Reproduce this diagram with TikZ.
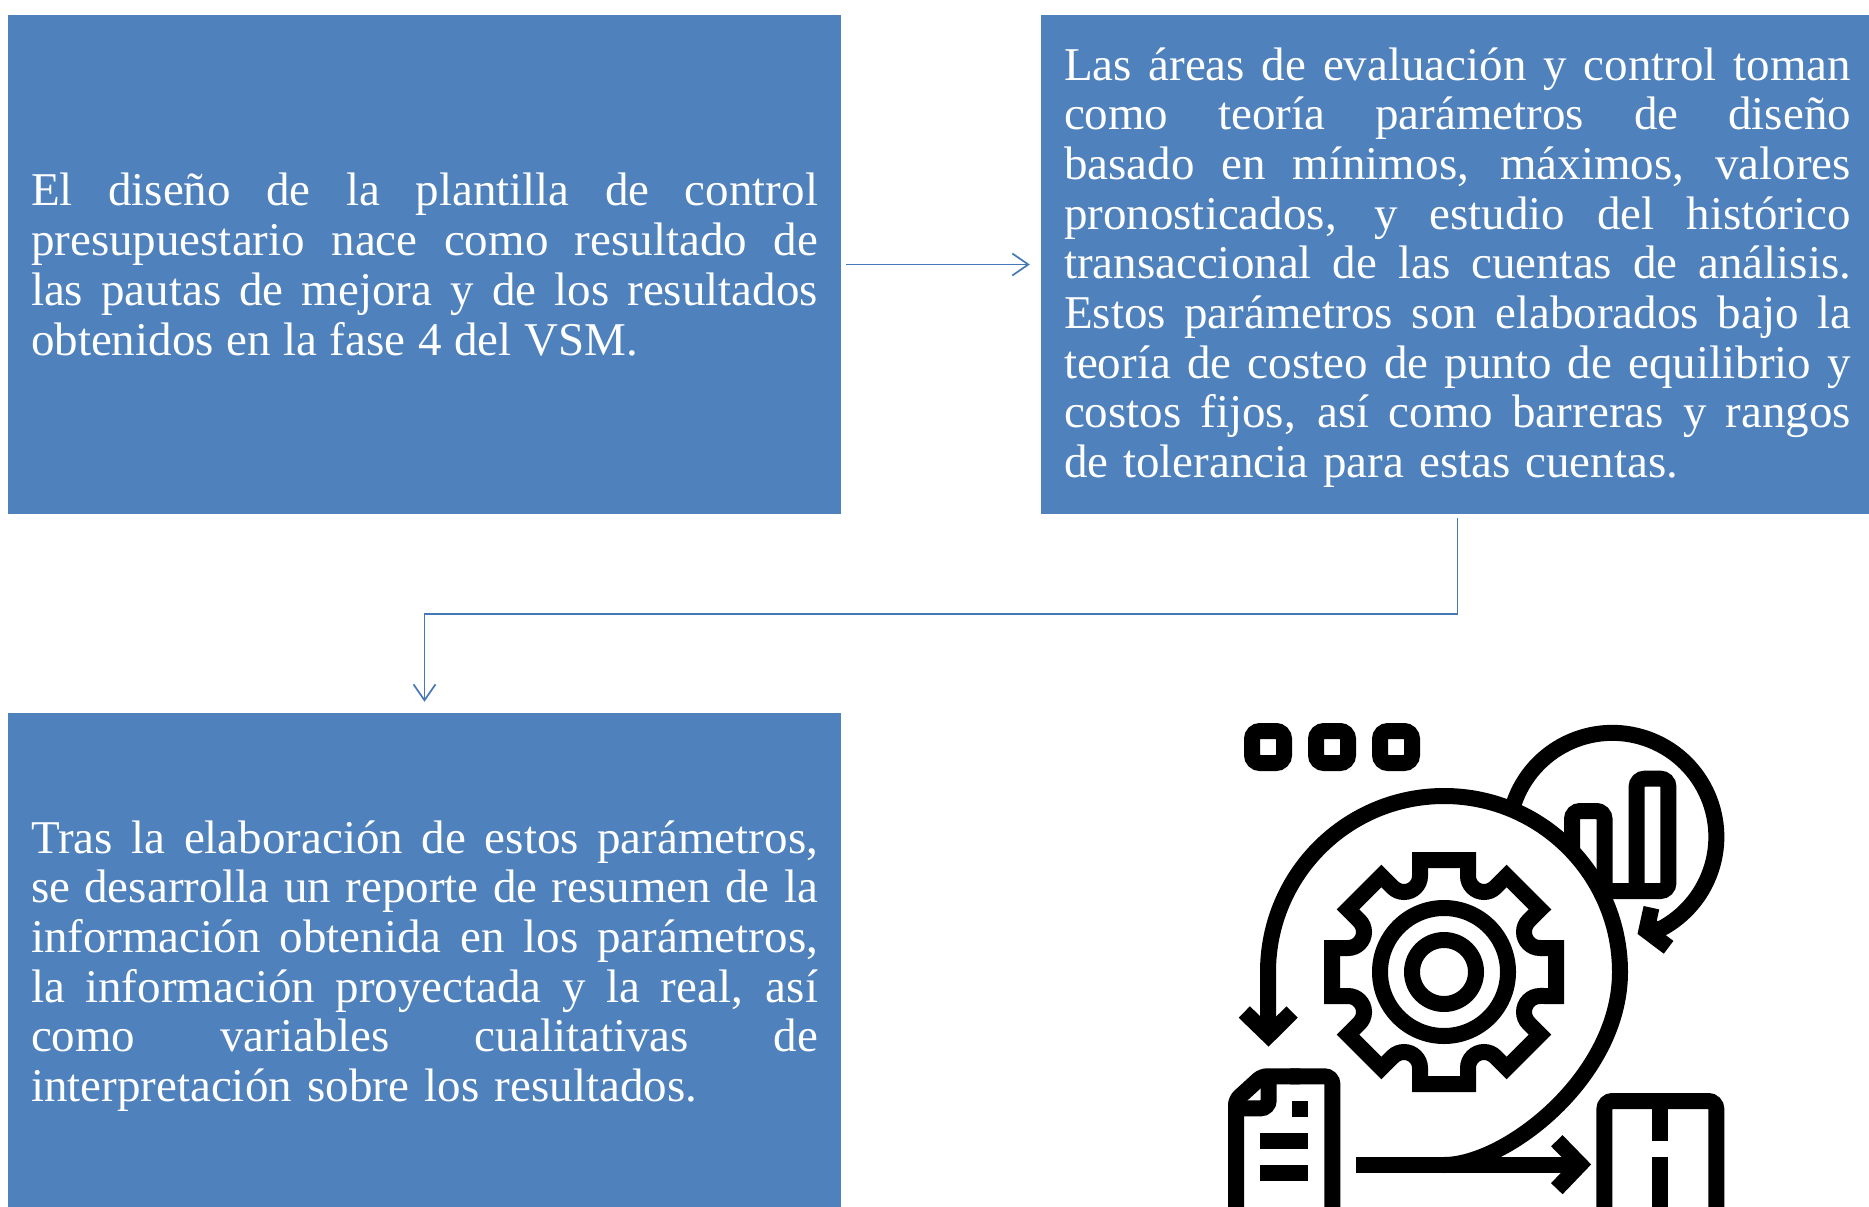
\documentclass[tikz,border=0pt]{standalone}
\usepackage{fontspec}
\setmainfont{Liberation Serif}
\usetikzlibrary{arrows.meta}
\definecolor{boxblue}{RGB}{79,129,189}
\definecolor{connblue}{RGB}{70,120,184}
\newcommand{\wl}[2]{\hbox to #1{\spaceskip=.22em plus 1fil\relax #2}}
\newcommand{\jl}[1]{\wl{787pt}{#1}}
\tikzset{
  x=1pt,y=1pt,
  boxnode/.style={fill=boxblue,draw=none,text=white,minimum width=833pt,minimum height=499pt,
    inner sep=0pt,text width=787pt,font=\fontsize{47}{49.7}\selectfont},
  conn/.style={draw=connblue,line width=1.7pt,-{Straight Barb[length=16pt,width=22pt,line width=1.7pt]}},
  ico/.style={draw=black,line width=16pt,line join=miter,line cap=butt},
  icofill/.style={fill=black,draw=none}
}
\begin{document}
\begin{tikzpicture}
\useasboundingbox (0,0) rectangle (1869,-1207);
\clip (0,0) rectangle (1869,-1207);
\fill[white] (0,0) rectangle (1869,-1207);
\node[boxnode] (b1) at (424.5,-264.5) {\vbox{%
\jl{El diseño de la plantilla de control}
\jl{presupuestario nace como resultado de}
\jl{las pautas de mejora y de los resultados}
\wl{607pt}{obtenidos en la fase 4 del VSM.}}};
\node[boxnode] (b2) at (1457.5,-264.5) {\vbox{\kern6pt
\jl{Las áreas de evaluación y control toman}
\jl{como teoría parámetros de diseño}
\jl{basado en mínimos, máximos, valores}
\jl{pronosticados, y estudio del histórico}
\jl{transaccional de las cuentas de análisis.}
\jl{Estos parámetros son elaborados bajo la}
\jl{teoría de costeo de punto de equilibrio y}
\jl{costos fijos, así como barreras y rangos}
\wl{614pt}{de tolerancia para estas cuentas.}}};
\node[boxnode] (b3) at (424.5,-962.5) {\vbox{\kern7pt
\jl{Tras la elaboración de estos parámetros,}
\jl{se desarrolla un reporte de resumen de la}
\jl{información obtenida en los parámetros,}
\jl{la información proyectada y la real, así}
\jl{como variables cualitativas de}
\wl{666pt}{interpretación sobre los resultados.}}};
\draw[conn,shorten <=5pt,shorten >=11pt] (b1.east) -- (b2.west);
\draw[conn,shorten <=4pt,shorten >=11pt] (b2.south) -- ++(0,-100) -| (b3.north);
% icon: three dots
\foreach \dx in {0,64,128}
  \draw[ico,rounded corners=8pt] (1252+\dx,-731) rectangle (1284+\dx,-763);
% big arc
\draw[ico] (1268,-1032) -- (1268,-972) arc[start angle=180,end angle=0,radius=176]
  .. controls (1620,-1077) and (1506,-1165) .. (1444,-1165);
\draw[ico] (1244.3,-1012) -- (1268.5,-1035.4) -- (1292.1,-1012);
\draw[ico] (1356.4,-1164.5) -- (1576,-1164.5);
\draw[ico] (1556.8,-1140.7) -- (1580,-1164.5) -- (1556.8,-1188.7);
% upper right arc
\draw[ico] (1514,-803) arc[start angle=161,end angle=-62,radius=104] -- (1648,-930);
\draw[ico] (1651.4,-907.7) -- (1646.4,-930.6) -- (1668.6,-947.3);
% bars
\draw[ico,rounded corners=8pt] (1572,-851) -- (1572,-811) -- (1604.5,-811) -- (1604.5,-900);
\draw[ico,rounded corners=8pt] (1636.6,-891) -- (1636.6,-778.7) -- (1668.4,-778.7) -- (1668.4,-891) -- (1600,-891);
% gear
\begin{scope}[shift={(1444,-972)}]
\draw[ico] (24,112) -- (-24,112) -- (-24,96) arc[start angle=0,end angle=-135,radius=16]
 -- (-62.6,96) -- (-96,62.6) -- (-84.7,51.3) arc[start angle=45,end angle=-90,radius=16]
 -- (-112,24) -- (-112,-24) -- (-96,-24) arc[start angle=90,end angle=-45,radius=16]
 -- (-96,-62.6) -- (-62.6,-96) -- (-51.3,-84.7) arc[start angle=135,end angle=0,radius=16]
 -- (-24,-112) -- (24,-112) -- (24,-96) arc[start angle=180,end angle=45,radius=16]
 -- (62.6,-96) -- (96,-62.6) -- (84.7,-51.3) arc[start angle=225,end angle=90,radius=16]
 -- (112,-24) -- (112,24) -- (96,24) arc[start angle=-90,end angle=-225,radius=16]
 -- (96,62.6) -- (62.6,96) -- (51.3,84.7) arc[start angle=-45,end angle=-180,radius=16]
 -- cycle;
\draw[ico] (0,0) circle[radius=64];
\draw[ico] (0,0) circle[radius=32];
\end{scope}
% document
\draw[ico,rounded corners=5pt] (1236,-1230) -- (1236,-1100) -- (1262,-1076.3) -- (1300,-1076.3);
\draw[ico,rounded corners=8pt] (1290,-1076.3) -- (1332.4,-1076.3) -- (1332.4,-1230);
\draw[ico,rounded corners=8pt] (1268.7,-1076.3) -- (1268.7,-1108.3) -- (1236,-1108.3);
\fill[icofill] (1292,-1100.7) rectangle (1308,-1116.7);
\fill[icofill] (1260.4,-1132.7) rectangle (1308,-1148.7);
\fill[icofill] (1260.4,-1164.7) rectangle (1308,-1180.7);
% box lower right
\draw[ico,rounded corners=8pt] (1604.4,-1230) -- (1604.4,-1101) -- (1716.3,-1101) -- (1716.3,-1230);
\draw[ico] (1660.4,-1101) -- (1660.4,-1140.7);
\draw[ico] (1660.4,-1156.7) -- (1660.4,-1230);
\end{tikzpicture}
\end{document}
